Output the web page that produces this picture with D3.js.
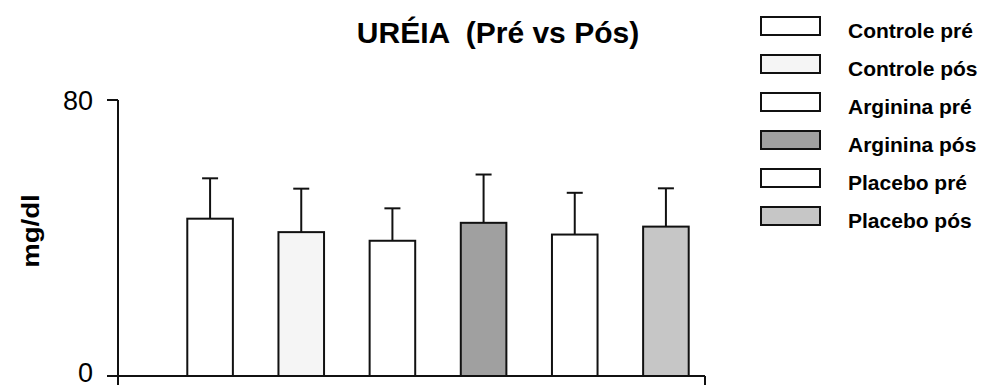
<!DOCTYPE html>
<html>
<head>
<meta charset="utf-8">
<script src="https://cdn.jsdelivr.net/npm/d3@7"></script>
<style>
  body { margin: 0; background: #fff; }
  svg { display: block; font-family: "Liberation Sans", Arial, sans-serif; }
</style>
</head>
<body>
<svg id="chart"></svg>
<script>
// data
const groups = ['Controle pré', 'Controle pós', 'Arginina pré', 'Arginina pós', 'Placebo pré', 'Placebo pós']
const means = [45.6, 41.7, 39.2, 44.4, 41.0, 43.3]
const errors = [11.7, 12.6, 9.4, 14.0, 12.1, 11.1]
const fills = ['#ffffff', '#f5f5f5', '#ffffff', '#a0a0a0', '#ffffff', '#c6c6c6']
const yTicks = [0, 80]

const width = 985
const height = 389

const svg = d3.select('#chart')
  .attr('width', width)
  .attr('height', height)

// scales
const y = d3.scaleLinear()
  .domain([0, 80])
  .range([376, 100])

const x = d3.scaleBand()
  .domain(groups)
  .range([164.5, 711.5])
  .paddingInner(0.5)
  .paddingOuter(0.25)

const axisLeft = 118
const axisRight = 705

// title
svg.append('text')
  .attr('x', 498)
  .attr('y', 43)
  .attr('text-anchor', 'middle')
  .attr('font-size', 30)
  .attr('font-weight', 'bold')
  .attr('xml:space', 'preserve')
  .style('white-space', 'pre')
  .text('URÉIA  (Pré vs Pós)')

// y label
svg.append('text')
  .attr('transform', `translate(39, 231) rotate(-90) scale(1.15, 1)`)
  .attr('text-anchor', 'middle')
  .attr('font-size', 24)
  .attr('font-weight', 'bold')
  .text('mg/dl')

// bars
const bars = svg.append('g')

bars.selectAll('rect')
  .data(groups)
  .join('rect')
  .attr('x', d => x(d))
  .attr('width', x.bandwidth())
  .attr('y', (d, i) => y(means[i]))
  .attr('height', (d, i) => y(0) - y(means[i]))
  .attr('fill', (d, i) => fills[i])
  .attr('stroke', '#111')
  .attr('stroke-width', 2)

// error bars (upper only)
const err = svg.append('g')
  .attr('stroke', '#111')
  .attr('stroke-width', 2)

err.selectAll('line.stem')
  .data(groups)
  .join('line')
  .attr('class', 'stem')
  .attr('x1', d => x(d) + x.bandwidth() / 2)
  .attr('x2', d => x(d) + x.bandwidth() / 2)
  .attr('y1', (d, i) => y(means[i]))
  .attr('y2', (d, i) => y(means[i] + errors[i]))

err.selectAll('line.cap')
  .data(groups)
  .join('line')
  .attr('class', 'cap')
  .attr('x1', d => x(d) + x.bandwidth() / 2 - 8)
  .attr('x2', d => x(d) + x.bandwidth() / 2 + 8)
  .attr('y1', (d, i) => y(means[i] + errors[i]))
  .attr('y2', (d, i) => y(means[i] + errors[i]))

// axes
const axes = svg.append('g')
  .attr('stroke', '#111')
  .attr('stroke-width', 2)
  .attr('fill', 'none')

axes.append('line')
  .attr('x1', axisLeft).attr('x2', axisLeft)
  .attr('y1', y(80)).attr('y2', y(0) + 9)

axes.append('line')
  .attr('x1', axisLeft - 11).attr('x2', axisRight)
  .attr('y1', y(0)).attr('y2', y(0))

axes.append('line')
  .attr('x1', axisRight).attr('x2', axisRight)
  .attr('y1', y(0)).attr('y2', y(0) + 9)

axes.selectAll('line.tick')
  .data(yTicks)
  .join('line')
  .attr('class', 'tick')
  .attr('x1', axisLeft - 11).attr('x2', axisLeft)
  .attr('y1', d => y(d)).attr('y2', d => y(d))

// tick labels; the 0 is nudged up so it stays inside the frame
svg.append('g')
  .selectAll('text')
  .data(yTicks)
  .join('text')
  .attr('x', axisLeft - 25)
  .attr('y', d => Math.min(y(d) + 10, 382))
  .attr('text-anchor', 'end')
  .attr('font-size', 27)
  .text(d => d)

// legend
const legend = svg.append('g')
  .selectAll('g')
  .data(groups)
  .join('g')
  .attr('transform', (d, i) => `translate(761, ${17 + i * 38})`)

legend.append('rect')
  .attr('width', 59)
  .attr('height', 18)
  .attr('fill', (d, i) => fills[i])
  .attr('stroke', '#111')
  .attr('stroke-width', 2)

legend.append('text')
  .attr('x', 87)
  .attr('y', 21)
  .attr('font-size', 21)
  .attr('font-weight', 'bold')
  .text(d => d)
</script>
</body>
</html>
